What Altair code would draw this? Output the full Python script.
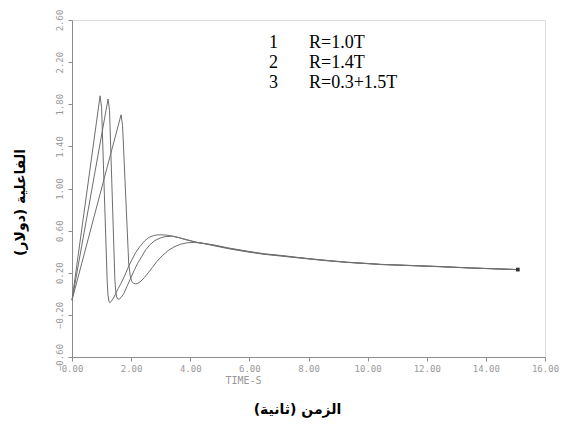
import altair as alt
import pandas as pd

# Curve 1: R=1.0T
t1 = [0.0, 0.95, 1.0, 1.19, 1.22, 1.25, 1.28, 1.32, 1.38, 1.46, 1.56, 1.66, 1.78, 1.9, 2.02, 2.15,
      2.3, 2.45, 2.6, 2.75, 2.9, 3.05, 3.2, 3.4, 3.6, 3.83, 4.2, 4.78, 5.3, 5.93, 6.5, 7.05, 7.6,
      8.17, 8.7, 9.32, 9.9, 10.44, 11.22, 12.37, 13.49, 14.3, 15.08]
v1 = [-0.06, 1.88, 1.77, 0.12, -0.02, -0.07, -0.085, -0.075, -0.05, -0.01, 0.05, 0.10, 0.17, 0.25, 0.32, 0.39,
      0.45, 0.50, 0.535, 0.552, 0.56, 0.56, 0.557, 0.548, 0.535, 0.515, 0.49, 0.465, 0.435, 0.405, 0.38, 0.365, 0.347,
      0.33, 0.315, 0.30, 0.29, 0.28, 0.272, 0.26, 0.246, 0.238, 0.23]

# Curve 2: R=1.4T
t2 = [0.0, 1.22, 1.27, 1.45, 1.48, 1.51, 1.55, 1.6, 1.66, 1.75, 1.86, 1.97, 2.1, 2.22, 2.35, 2.5,
      2.65, 2.8, 2.98, 3.15, 3.39, 3.6, 3.83, 4.2, 4.78, 5.3, 5.93, 6.5, 7.05, 7.6,
      8.17, 8.7, 9.32, 9.9, 10.44, 11.22, 12.37, 13.49, 14.3, 15.08]
v2 = [-0.06, 1.85, 1.74, 0.14, 0.02, -0.03, -0.05, -0.05, -0.035, 0.0, 0.07, 0.14, 0.22, 0.29, 0.35, 0.42,
      0.47, 0.505, 0.53, 0.543, 0.547, 0.535, 0.518, 0.49, 0.462, 0.432, 0.402, 0.378, 0.362, 0.345,
      0.328, 0.314, 0.299, 0.289, 0.279, 0.271, 0.259, 0.245, 0.237, 0.23]

# Curve 3: R=0.3+1.5T
t3 = [0.0, 1.66, 1.71, 1.92, 1.97, 2.02, 2.08, 2.15, 2.23, 2.33, 2.45, 2.58, 2.72, 2.88, 3.05, 3.25,
      3.45, 3.66, 3.9, 4.15, 4.45, 4.78, 5.3, 5.93, 6.5, 7.05, 7.6,
      8.17, 8.7, 9.32, 9.9, 10.44, 11.22, 12.37, 13.49, 14.3, 15.08]
v3 = [-0.06, 1.70, 1.60, 0.28, 0.17, 0.12, 0.10, 0.095, 0.10, 0.12, 0.155, 0.20, 0.25, 0.31, 0.36, 0.41,
      0.445, 0.47, 0.485, 0.488, 0.478, 0.458, 0.428, 0.398, 0.375, 0.359, 0.343,
      0.326, 0.312, 0.298, 0.288, 0.278, 0.27, 0.258, 0.245, 0.237, 0.23]

series_names = ["1", "2", "3"]
legend_nums = "1\n2\n3"
legend_labels = "R=1.0T\nR=1.4T\nR=0.3+1.5T"

x_ticks = list(range(0, 17))
y_ticks = [-0.6, -0.4, -0.2, 0.0, 0.2, 0.4, 0.6, 0.8, 1.0, 1.2, 1.4, 1.6, 1.8, 2.0, 2.2, 2.4, 2.6]

rows = []
for name, ts, vs in zip(series_names, [t1, t2, t3], [v1, v2, v3]):
    for i, (t, v) in enumerate(zip(ts, vs)):
        rows.append({"series": name, "t": t, "v": v, "order": i})
df = pd.DataFrame(rows)
end_df = pd.DataFrame({"t": [t1[-1]], "v": [v1[-1]]})

mono = "DejaVu Sans Mono"
gray = "#8c8c8c"

x = alt.X("t:Q", scale=alt.Scale(domain=[0, 16], nice=False, zero=False),
          axis=alt.Axis(values=x_ticks,
                        labelExpr="datum.value % 2 == 0 ? format(datum.value, '.2f') : ''",
                        labelFont=mono, labelFontSize=9, labelColor="#999999",
                        labelOverlap=False, labelFlush=False, labelPadding=3,
                        tickSize=4, tickColor=gray, domainColor=gray, grid=False,
                        title="TIME-S", titleFont=mono, titleFontSize=10,
                        titleFontWeight="normal", titleColor="#999999",
                        titleX=171, titleY=23, titleAlign="center", titleBaseline="middle"))
y = alt.Y("v:Q", scale=alt.Scale(domain=[-0.6, 2.6], nice=False, zero=False),
          axis=alt.Axis(values=y_ticks,
                        labelExpr="abs(round(datum.value*10)) % 4 == 2 ? format(datum.value, '.2f') : ''",
                        labelAngle=270, labelAlign="center", labelBaseline="bottom",
                        labelFont=mono, labelFontSize=9, labelColor="#999999",
                        labelOverlap=False, labelFlush=False, labelPadding=4,
                        tickSize=4, tickColor=gray, domainColor=gray, grid=False,
                        title="الفاعلية (دولار)", titleFont="DejaVu Sans", titleFontSize=14,
                        titleFontWeight="bold", titleColor="black", titleAngle=270,
                        titleX=-52, titleY=182, titleAlign="center", titleBaseline="middle"))

lines = alt.Chart(df).mark_line(strokeWidth=1, interpolate="linear").encode(
    x=x, y=y,
    detail="series:N",
    order="order:Q",
    color=alt.value("#6e6e6e"),
)

end_mark = alt.Chart(end_df).mark_square(size=14, color="#333333", opacity=1).encode(
    x="t:Q", y="v:Q")

leg_num = alt.Chart(end_df).mark_text(
    lineBreak="\n", lineHeight=20, font="Liberation Serif", fontSize=18,
    align="left", baseline="top", color="black").encode(
    x=alt.value(197), y=alt.value(14), text=alt.value(legend_nums))

leg_lab = alt.Chart(end_df).mark_text(
    lineBreak="\n", lineHeight=20, font="Liberation Serif", fontSize=18,
    align="left", baseline="top", color="black").encode(
    x=alt.value(237), y=alt.value(14), text=alt.value(legend_labels))

chart = alt.layer(lines, end_mark, leg_num, leg_lab).properties(
    width=473, height=337,
    autosize=alt.AutoSizeParams(type="none"),
    padding={"left": 64, "top": 12, "right": 18, "bottom": 65},
    title=alt.TitleParams("الزمن (ثانية)", orient="bottom", anchor="middle",
                          font="DejaVu Sans", fontSize=14, fontWeight="bold",
                          color="black", offset=18, dx=-11),
).configure_view(stroke=None).configure(background="white")

chart.save("out.html", embed_options={"renderer": "svg", "actions": False})
